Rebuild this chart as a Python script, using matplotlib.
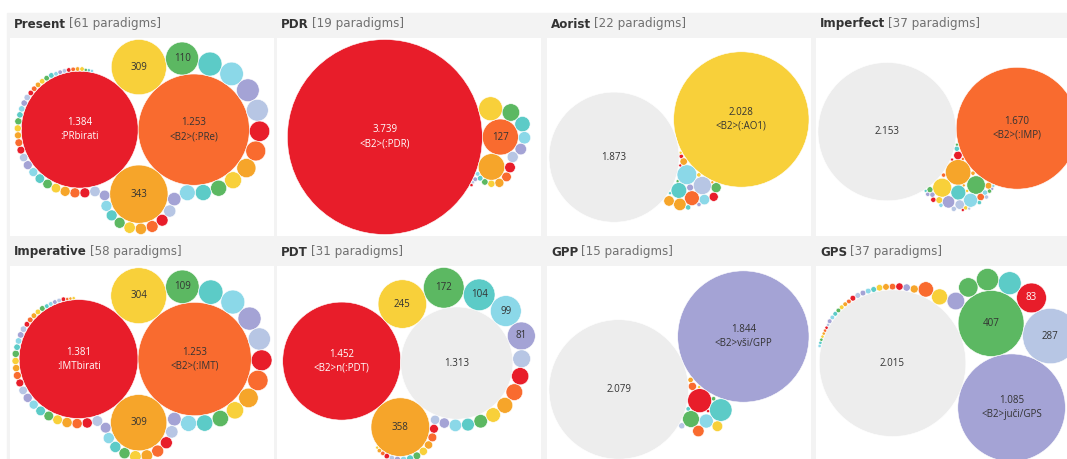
import math
import matplotlib
matplotlib.use("Agg")
import matplotlib.pyplot as plt
from matplotlib.patches import Circle, Rectangle

W, H = 1067, 459

# colour codes: 0 red, 1 orange, 2 amber, 3 yellow, 4 green, 5 teal,
# 6 light blue, 7 lavender, 8 steel blue, 9 grey (no label)
palette = ["#e81d2a", "#f96b2f", "#f6a52a", "#f8d03a", "#5cb862",
           "#5ccbc7", "#8bd8e8", "#a4a3d5", "#b7c6e4", "#ededed"]

# ---- data -----------------------------------------------------------------
present_vals = [1384, 1253, 343, 309, 110, 58, 56, 52, 48, 42, 40, 37, 29, 26, 26,
                25, 18, 15, 14, 14, 13, 13, 12, 12, 12, 11, 11, 10, 10, 10, 9, 9,
                9, 8, 8, 7, 6, 6, 5, 5, 5, 4, 4, 4, 4, 3, 3, 3, 3, 3, 3, 2, 2, 2,
                2, 2, 2, 2, 1, 1, 1]
present_cols = "012345678" * 6 + "0123456"
present_names = [":PRbirati", "<B2>(:PRe)"]

pdr_vals = [3739, 127, 69, 56, 30, 23, 15, 13, 12, 11, 9, 8, 5, 4, 3, 2, 2, 1, 1]
pdr_cols = "0123456780123456780"
pdr_names = ["<B2>(:PDR)", ""]

aorist_vals = [2028, 1873, 43, 36, 27, 24, 17, 12, 12, 11, 9, 6, 5, 3, 2, 2, 2,
               1, 1, 1, 1, 1]
aorist_cols = "3968512624027530740352"
aorist_names = ["<B2>(:AO1)", ""]

imperfect_vals = [2153, 1670, 73, 40, 38, 25, 22, 17, 10, 8, 6, 5, 5, 4, 3, 3, 3,
                  3, 3, 2, 2, 2, 2, 2, 2, 2, 2, 1, 1, 1, 1, 1, 1, 1, 1, 1, 1]
imperfect_cols = "91234567801234" + "56780123456780123456780"
imperfect_names = ["", "<B2>(:IMP)"]

imperative_vals = [1381, 1253, 309, 304, 109, 58, 56, 52, 48, 42, 40, 37, 29, 26,
                   26, 25, 18, 15, 14, 14, 13, 13, 12, 12, 12, 11, 11, 10, 10, 10,
                   9, 9, 9, 8, 8, 7, 6, 6, 5, 5, 5, 4, 4, 4, 4, 3, 3, 3, 3, 3, 2,
                   2, 2, 2, 2, 1, 1, 1]
imperative_cols = "012345678" * 6 + "0123"
imperative_names = [":IMTbirati", "<B2>(:IMT)"]

pdt_vals = [1452, 1313, 358, 245, 172, 104, 99, 81, 33, 31, 29, 26, 22, 19, 17,
            16, 11, 9, 8, 8, 7, 7, 6, 5, 4, 4, 3, 3, 2, 2, 1]
pdt_cols = "0923456780123456780123456780123"
pdt_names = ["<B2>n(:PDT)", ""]

gpp_vals = [2079, 1844, 61, 54, 30, 21, 14, 12, 7, 4, 3, 2, 2, 1, 1]
gpp_cols = "970546131825430"
gpp_names = ["", "<B2>vši/GPP"]

gps_vals = [2015, 1085, 407, 287, 83, 49, 46, 35, 29, 24, 22, 6, 5, 5, 4, 4, 4,
            3, 3, 3, 3, 3, 2, 2, 2, 2, 2, 2, 2, 1, 1, 1, 1, 1, 1, 1, 1]
gps_cols = "974805447312" + "7012356780123456780123456"
gps_names = ["", "<B2>juči/GPS"]

titles = ["Present", "PDR", "Aorist", "Imperfect",
          "Imperative", "PDT", "GPP", "GPS"]
counts = [61, 19, 22, 37, 58, 31, 15, 37]
values = [present_vals, pdr_vals, aorist_vals, imperfect_vals,
          imperative_vals, pdt_vals, gpp_vals, gps_vals]
colours = [present_cols, pdr_cols, aorist_cols, imperfect_cols,
           imperative_cols, pdt_cols, gpp_cols, gps_cols]
names = [present_names, pdr_names, aorist_names, imperfect_names,
         imperative_names, pdt_names, gpp_names, gps_names]

# layout: direction from biggest to second bubble (deg, screen coords),
# mirror, how the small bubbles are packed, and where a spiral starts
angles = [0, 0, 163.5, -1.5, 0, 1, -23, 20.5]
flips = [False, False, True, False, False, False, False, True]
modes = ["spiral", "spiral", "seed", "seed", "spiral", "spiral", "seed", "spiral"]
starts = [0, 0, 0, 0, 0, 0, 0, 1]


# ---- circle packing --------------------------------------------------------
class Node:
    def __init__(self, c):
        self.c = c
        self.next = None
        self.prev = None


def place(b, a, c):
    dx, dy = b[0] - a[0], b[1] - a[1]
    d2 = dx * dx + dy * dy
    if d2:
        a2 = (a[2] + c[2]) ** 2
        b2 = (b[2] + c[2]) ** 2
        if a2 > b2:
            x = (d2 + b2 - a2) / (2 * d2)
            y = math.sqrt(max(0, b2 / d2 - x * x))
            c[0] = b[0] - x * dx - y * dy
            c[1] = b[1] - x * dy + y * dx
        else:
            x = (d2 + a2 - b2) / (2 * d2)
            y = math.sqrt(max(0, a2 / d2 - x * x))
            c[0] = a[0] + x * dx - y * dy
            c[1] = a[1] + x * dy + y * dx
    else:
        c[0] = a[0] + c[2]
        c[1] = a[1]


def intersects(a, b):
    dr = a[2] + b[2] - 1e-6
    dx, dy = b[0] - a[0], b[1] - a[1]
    return dr > 0 and dr * dr > dx * dx + dy * dy


def first_three(radii):
    circ = [[0.0, 0.0, r] for r in radii]
    if len(circ) > 1:
        circ[0][0] = -circ[1][2]
        circ[1][0] = circ[0][2]
    if len(circ) > 2:
        place(circ[1], circ[0], circ[2])
    return circ


def pack_spiral(radii, start=0):
    # front chain, each new bubble goes next to the one placed before it
    circ = first_three(radii)
    n = len(circ)
    if n < 4:
        return circ
    nodes = [Node(circ[0]), Node(circ[1]), Node(circ[2])]
    for q in range(3):
        nodes[q].next = nodes[(q + 1) % 3]
        nodes[q].prev = nodes[(q - 1) % 3]
    a = nodes[start]
    b = a.next
    i = 3
    while i < n:
        place(a.c, b.c, circ[i])
        c = Node(circ[i])
        j, k = b.next, a.prev
        sj, sk = b.c[2], a.c[2]
        retry = False
        while True:
            if sj <= sk:
                if intersects(j.c, c.c):
                    b = j
                    a.next = b
                    b.prev = a
                    retry = True
                    break
                sj += j.c[2]
                j = j.next
            else:
                if intersects(k.c, c.c):
                    a = k
                    a.next = b
                    b.prev = a
                    retry = True
                    break
                sk += k.c[2]
                k = k.prev
            if j is k.next:
                break
        if retry:
            continue
        c.prev = a
        c.next = b
        a.next = c
        b.prev = c
        a = c
        i += 1
    return circ


def spots(p, q, r):
    dx, dy = q[0] - p[0], q[1] - p[1]
    d = math.hypot(dx, dy)
    ra, rb = p[2] + r, q[2] + r
    if d == 0 or d > ra + rb or d < abs(ra - rb):
        return []
    a = (ra * ra - rb * rb + d * d) / (2 * d)
    h = math.sqrt(max(0, ra * ra - a * a))
    mx, my = p[0] + a * dx / d, p[1] + a * dy / d
    return [(mx - h * dy / d, my + h * dx / d), (mx + h * dy / d, my - h * dx / d)]


def pack_seed(radii):
    # small bubbles gather as close as possible round the third bubble
    circ = first_three(radii)
    if len(circ) < 4:
        return circ
    tx, ty = circ[2][0], circ[2][1]
    for i in range(3, len(circ)):
        r = circ[i][2]
        best, bd = None, 1e18
        for p in range(i):
            for q in range(p + 1, i):
                for sx, sy in spots(circ[p], circ[q], r):
                    d = (sx - tx) ** 2 + (sy - ty) ** 2
                    if d >= bd:
                        continue
                    ok = True
                    for m in range(i):
                        o = circ[m]
                        rr = o[2] + r - 1e-6
                        if (o[0] - sx) ** 2 + (o[1] - sy) ** 2 < rr * rr:
                            ok = False
                            break
                    if ok:
                        best, bd = (sx, sy), d
        circ[i][0], circ[i][1] = best
    return circ


def fmt(v):
    return "{:,}".format(v).replace(",", ".")


# ---- figure ---------------------------------------------------------------
fig = plt.figure(figsize=(W / 100, H / 100), dpi=100, facecolor="white")
fig.patches.append(Rectangle((7 / W, 0), (1066 - 7) / W, (H - 13) / H,
                             transform=fig.transFigure, color="#f3f3f3", zorder=-5))

col_x = [10, 277, 547, 816]
row_y = [38, 266]
head_y = [24, 252]
pw, ph = 264, 198
renderer = fig.canvas.get_renderer()

for idx in range(8):
    r_, c_ = divmod(idx, 4)
    x0, y0 = col_x[c_], row_y[r_]
    ax = fig.add_axes([x0 / W, 1 - (y0 + ph) / H, pw / W, ph / H], zorder=1)
    ax.set_xlim(0, pw)
    ax.set_ylim(ph, 0)
    ax.set_xticks([])
    ax.set_yticks([])
    for s in ax.spines.values():
        s.set_visible(False)
    ax.set_facecolor("white")

    vals = values[idx]
    radii = [math.sqrt(v) for v in vals]
    if modes[idx] == "spiral":
        circ = pack_spiral(radii, starts[idx])
    else:
        circ = pack_seed(radii)
    # orient the layout like the reference
    th = math.radians(angles[idx])
    ct, st = math.cos(th), math.sin(th)
    pts = []
    for x, y, r in circ:
        if flips[idx]:
            y = -y
        pts.append((x * ct - y * st, x * st + y * ct, r))
    xmin = min(p[0] - p[2] for p in pts)
    xmax = max(p[0] + p[2] for p in pts)
    ymin = min(p[1] - p[2] for p in pts)
    ymax = max(p[1] + p[2] for p in pts)
    k = 0.985 * min(pw / (xmax - xmin), ph / (ymax - ymin))
    cx, cy = (xmin + xmax) / 2, (ymin + ymax) / 2

    for n_, (x, y, r) in enumerate(pts):
        px = pw / 2 + (x - cx) * k
        py = ph / 2 + (y - cy) * k
        code = int(colours[idx][n_])
        ax.add_patch(Circle((px, py), r * k, facecolor=palette[code],
                            edgecolor="white", linewidth=0.4))
        v = vals[n_]
        if v >= 80:
            tc = "white" if code == 0 else "#333333"
            label = fmt(v)
            nm = names[idx][n_] if n_ < 2 else ""
            if nm:
                ax.text(px, py - 7, label, ha="center", va="center",
                        fontsize=7, color=tc, family="Open Sans")
                ax.text(px, py + 7, nm, ha="center", va="center",
                        fontsize=7, color=tc, family="Open Sans")
            else:
                ax.text(px, py, label, ha="center", va="center",
                        fontsize=7, color=tc, family="Open Sans")

    # header: bold name + grey count
    tx = (x0 + 4) / W
    ty = 1 - head_y[r_] / H
    t1 = fig.text(tx, ty, titles[idx], fontsize=8.6, fontweight="bold",
                  color="#333333", va="center", ha="left", family="DejaVu Sans")
    bb = t1.get_window_extent(renderer=renderer)
    fig.text(bb.x1 / W + 3 / W, ty, "[%d paradigms]" % counts[idx], fontsize=8.6,
             color="#707070", va="center", ha="left", family="DejaVu Sans")

fig.savefig("out.png", dpi=100, facecolor="white")
